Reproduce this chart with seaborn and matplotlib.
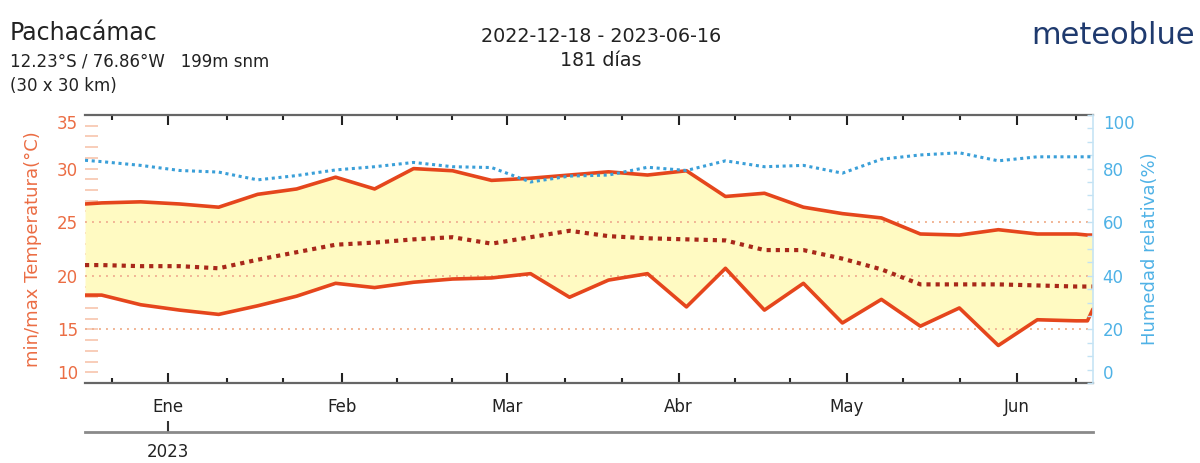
import matplotlib
matplotlib.use("Agg")
import matplotlib.pyplot as plt
import numpy as np
import pandas as pd
import seaborn as sns

# ---------------- data (days since 2022-12-18) ----------------
days = [0, 3, 10, 17, 24, 31, 38, 45, 52, 59, 66, 73, 80, 87, 94, 101, 108,
        115, 122, 129, 136, 143, 150, 157, 164, 171, 178, 180, 181]
tmax = [26.7, 26.8, 26.9, 26.7, 26.4, 27.6, 28.1, 29.2, 28.1, 30.0, 29.8, 28.9,
        29.1, 29.4, 29.7, 29.4, 29.8, 27.4, 27.7, 26.4, 25.8, 25.4, 23.9, 23.8,
        24.3, 23.9, 23.9, 23.8, 23.8]
tmin = [18.2, 18.2, 17.3, 16.8, 16.4, 17.2, 18.1, 19.3, 18.9, 19.4, 19.7, 19.8,
        20.2, 18.0, 19.6, 20.2, 17.1, 20.7, 16.8, 19.3, 15.6, 17.8, 15.3, 17.0,
        13.5, 15.9, 15.8, 15.8, 16.9]
tmean = [21.0, 21.0, 20.9, 20.9, 20.7, 21.5, 22.2, 22.9, 23.1, 23.4, 23.6, 23.0,
         23.6, 24.2, 23.7, 23.5, 23.4, 23.3, 22.4, 22.4, 21.6, 20.6, 19.2, 19.2,
         19.2, 19.1, 19.0, 19.0, 19.0]
humidity = [83.1, 82.6, 81.2, 79.3, 78.7, 75.8, 77.4, 79.5, 80.7, 82.3, 80.7, 80.4,
            75.0, 77.2, 77.6, 80.5, 79.3, 82.9, 80.7, 81.2, 78.3, 83.5, 85.1, 85.9,
            82.9, 84.4, 84.4, 84.4, 84.4]

month_labels = ["Ene", "Feb", "Mar", "Abr", "May", "Jun"]
month_tick_days = [14.9, 46.1, 75.8, 106.6, 136.8, 167.3]
minor_tick_days = [4.8, 25.5, 35.5, 56.0, 65.9, 86.2, 96.4, 116.7, 126.6,
                   146.9, 157.1, 177.9]
year_tick_days = [14.9]
year_labels = ["2023"]
temp_ticks = [10, 15, 20, 25, 30, 35]
hum_ticks = [0, 20, 40, 60, 80, 100]
grid_temps = [15, 20, 25]

df = pd.DataFrame({"day": days, "tmax": tmax, "tmin": tmin,
                   "tmean": tmean, "hum": humidity})

# ---------------- style ----------------
sns.set_theme(style="white")
plt.rcParams["font.family"] = ["DejaVu Sans"]

W, H = 1200, 463
fig = plt.figure(figsize=(W / 100, H / 100), dpi=100)
ax = fig.add_axes([85 / W, 1 - 383 / H, (1093 - 85) / W, (383 - 115) / H])

ORANGE = "#e5461c"
LABEL_OR = "#eb6d44"
BLUE = "#3a9fd8"
LBLUE = "#4fb2e6"

ax.fill_between(df["day"], df["tmin"], df["tmax"], color="#fffac2", lw=0, zorder=1)
for g in grid_temps:
    ax.axhline(g, color="#f1b595", lw=1.4, ls=(0, (1, 2.6)), zorder=1.5)

sns.lineplot(data=df, x="day", y="tmax", ax=ax, color=ORANGE, lw=2.6, zorder=3)
sns.lineplot(data=df, x="day", y="tmin", ax=ax, color=ORANGE, lw=2.6, zorder=3)
sns.lineplot(data=df, x="day", y="tmean", ax=ax, color="#a8281a", lw=3.0,
             ls=(0, (1, 1.2)), zorder=4)

ax.set_xlim(0, 181)
ax.set_ylim(10, 35)
ax.set_xlabel("")
ax.set_ylabel("")

ax.set_xticks(month_tick_days)
ax.set_xticklabels(month_labels)
ax.set_xticks(minor_tick_days, minor=True)
ax.tick_params(axis="x", which="major", direction="in", top=True, bottom=True,
               length=7, width=1.5, color="#222", labelsize=12, pad=11,
               labelcolor="#222")
ax.tick_params(axis="x", which="minor", direction="in", top=True, bottom=True,
               length=3.5, width=1.5, color="#222")

ax.set_yticks(temp_ticks)
ax.set_yticks(np.arange(10, 36, 1), minor=True)
ax.tick_params(axis="y", which="both", direction="in", left=True, length=9,
               width=1.2, color="#f7c5ad", labelsize=12, labelcolor=LABEL_OR, pad=5)
ylabels = ax.get_yticklabels()
ylabels[0].set_verticalalignment("bottom")
ylabels[-1].set_verticalalignment("top")

for s in ["left", "right"]:
    ax.spines[s].set_visible(False)
for s in ["top", "bottom"]:
    ax.spines[s].set_color("#666")
    ax.spines[s].set_linewidth(1.6)
    ax.spines[s].set_linestyle((0, (3, 1)))

# humidity axis
ax2 = ax.twinx()
sns.lineplot(data=df, x="day", y="hum", ax=ax2, color=BLUE, lw=2.2,
             ls=(0, (1, 1.2)), zorder=5)
ax2.set_ylim(0, 100)
ax2.set_xlim(0, 181)
ax2.set_ylabel("")
ax2.set_yticks(hum_ticks)
ax2.set_yticks(np.arange(0, 101, 5), minor=True)
ax2.tick_params(axis="y", which="both", direction="in", length=4, width=1,
                color="#c2e2f4", labelsize=12, labelcolor=LBLUE, pad=7)
hl = ax2.get_yticklabels()
hl[0].set_verticalalignment("bottom")
hl[-1].set_verticalalignment("top")
for s in ["left", "top", "bottom"]:
    ax2.spines[s].set_visible(False)
ax2.spines["right"].set_color("#c6e4f5")
ax2.spines["right"].set_linewidth(1.2)

# year axis
sec = ax.secondary_xaxis(-0.183)
sec.set_xticks(year_tick_days)
sec.set_xticklabels(year_labels)
sec.tick_params(axis="x", direction="in", length=8, width=1.5, color="#333",
                labelsize=12, pad=8, labelcolor="#222")
for s in ["top", "bottom"]:
    sec.spines[s].set_color("#8a8a8a")
    sec.spines[s].set_linewidth(2)

# axis titles
fig.text(33 / W, 1 - 249 / H, "min/max Temperatura(°C)", rotation=90,
         ha="center", va="center", fontsize=13, color=LABEL_OR)
fig.text(1150 / W, 1 - 249 / H, "Humedad relativa(%)", rotation=90,
         ha="center", va="center", fontsize=13, color=LBLUE)

# header
fig.text(10 / W, 1 - 33 / H, "Pachacámac", ha="left", va="center",
         fontsize=17, color="#222")
fig.text(10 / W, 1 - 62 / H, "12.23°S / 76.86°W   199m snm", ha="left",
         va="center", fontsize=12, color="#222")
fig.text(10 / W, 1 - 86 / H, "(30 x 30 km)", ha="left", va="center",
         fontsize=12, color="#222")
fig.text(601 / W, 1 - 36 / H, "2022-12-18 - 2023-06-16", ha="center",
         va="center", fontsize=13.8, color="#222")
fig.text(601 / W, 1 - 60 / H, "181 días", ha="center", va="center",
         fontsize=13.8, color="#222")
fig.text(1195 / W, 1 - 36 / H, "meteoblue", ha="right", va="center",
         fontsize=22, color="#1f3a6e")

fig.savefig("out.png", dpi=100)
